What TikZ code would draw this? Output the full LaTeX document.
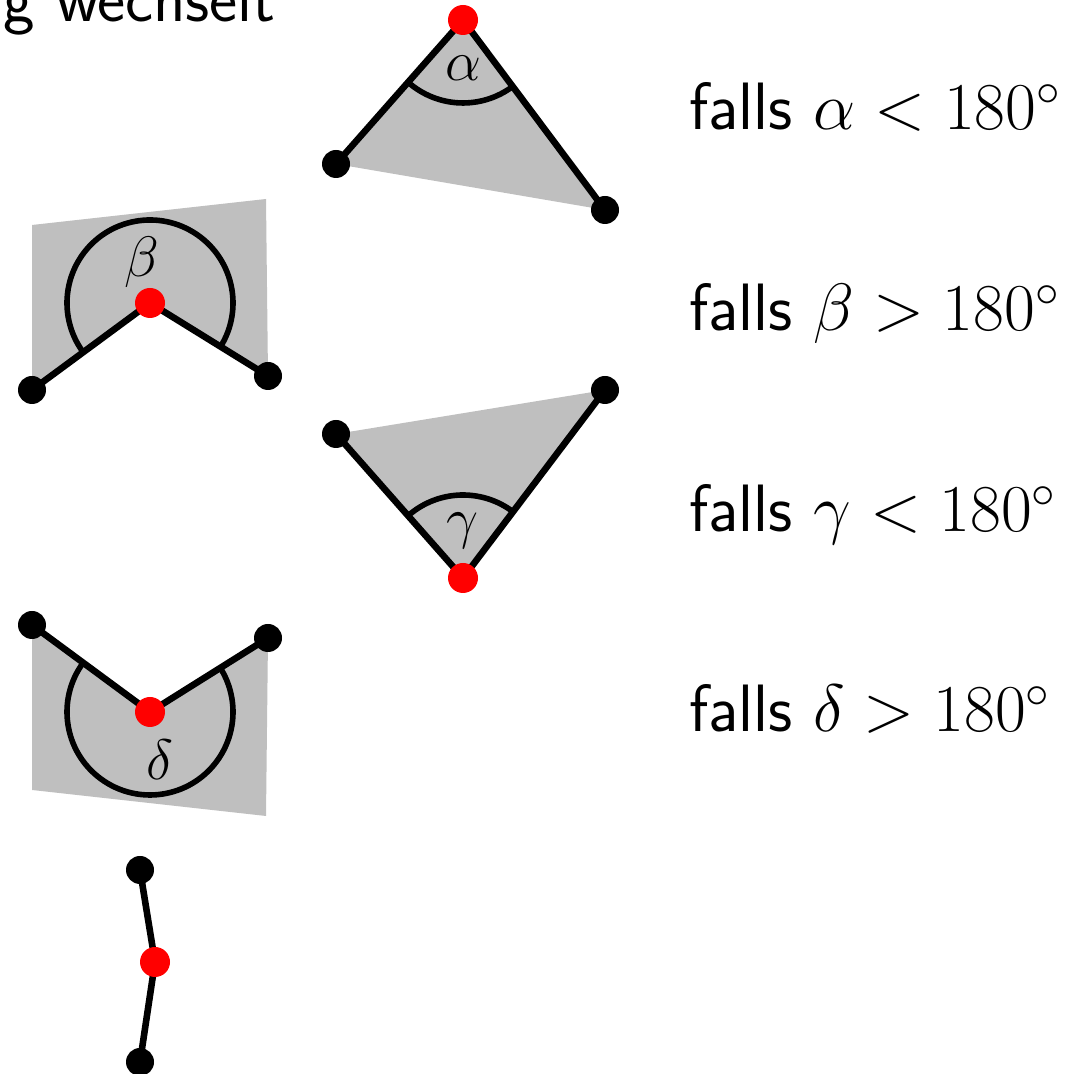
\RequirePackage{fix-cm}
\documentclass[tikz,border=0pt]{standalone}
\usetikzlibrary{angles}
\definecolor{shade}{RGB}{191,191,191}
\begin{document}
\begin{tikzpicture}[x=0.5pt,y=0.5pt,
  blackdot/.style={circle,fill=black,inner sep=0pt,minimum size=14pt},
  reddot/.style={circle,fill=red,inner sep=0pt,minimum size=15pt},
  edge/.style={line width=3.3pt},
  arcmark/.style={draw,line width=2.8pt,angle radius=41.5pt},
  region/.style={fill=shade},
  lbl/.style={font=\fontsize{28.5}{34}\selectfont},
  txt/.style={font=\fontsize{33.5}{40}\selectfont\sffamily,inner sep=0pt}]
\useasboundingbox (0,0) rectangle (1075,1074);

% top clipped text
\node[txt,anchor=base east] (top) at (276,1052) {g wechselt};

% alpha
\coordinate (A0) at (463,1054);
\coordinate (A1) at (336,910);
\coordinate (A2) at (605,864);
\fill[region] (A0) -- (A1) -- (A2) -- cycle;
\pic[arcmark] {angle = A1--A0--A2};
\node[lbl] (la) at (463,1006) {$\alpha$};
\draw[edge] (A1) -- (A0) -- (A2);
\node[reddot] (a0) at (A0) {};
\node[blackdot] (a1) at (A1) {};
\node[blackdot] (a2) at (A2) {};
\node[txt,anchor=base west] (ta) at (689,944) {falls $\alpha<180^\circ$};

% beta
\coordinate (B0) at (150,771);
\coordinate (B1) at (32,684);
\coordinate (B2) at (268,698);
\fill[region] (B0) -- (B1) -- (32,849) -- (266,875) -- (B2) -- cycle;
\pic[arcmark] {angle = B2--B0--B1};
\node[lbl] (lb) at (142,812) {$\beta$};
\draw[edge] (B1) -- (B0) -- (B2);
\node[reddot] (b0) at (B0) {};
\node[blackdot] (b1) at (B1) {};
\node[blackdot] (b2) at (B2) {};
\node[txt,anchor=base west] (tb) at (689,743) {falls $\beta>180^\circ$};

% gamma
\coordinate (C0) at (463,496);
\coordinate (C1) at (336,640);
\coordinate (C2) at (605,684);
\fill[region] (C0) -- (C1) -- (C2) -- cycle;
\pic[arcmark] {angle = C2--C0--C1};
\node[lbl] (lc) at (463,543) {$\gamma$};
\draw[edge] (C1) -- (C0) -- (C2);
\node[reddot] (c0) at (C0) {};
\node[blackdot] (c1) at (C1) {};
\node[blackdot] (c2) at (C2) {};
\node[txt,anchor=base west] (tc) at (689,542) {falls $\gamma<180^\circ$};

% delta
\coordinate (D0) at (150,362);
\coordinate (D1) at (32,449);
\coordinate (D2) at (268,436);
\fill[region] (D0) -- (D1) -- (32,284) -- (266,258) -- (D2) -- cycle;
\pic[arcmark] {angle = D1--D0--D2};
\node[lbl] (ld) at (160,314) {$\delta$};
\draw[edge] (D1) -- (D0) -- (D2);
\node[reddot] (d0) at (D0) {};
\node[blackdot] (d1) at (D1) {};
\node[blackdot] (d2) at (D2) {};
\node[txt,anchor=base west] (td) at (689,342) {falls $\delta>180^\circ$};

% collinear
\coordinate (E0) at (155,112);
\coordinate (E1) at (140,204);
\coordinate (E2) at (140,12);
\draw[edge] (E1) -- (E0) -- (E2);
\node[reddot] (e0) at (E0) {};
\node[blackdot] (e1) at (E1) {};
\node[blackdot] (e2) at (E2) {};
\end{tikzpicture}
\end{document}
